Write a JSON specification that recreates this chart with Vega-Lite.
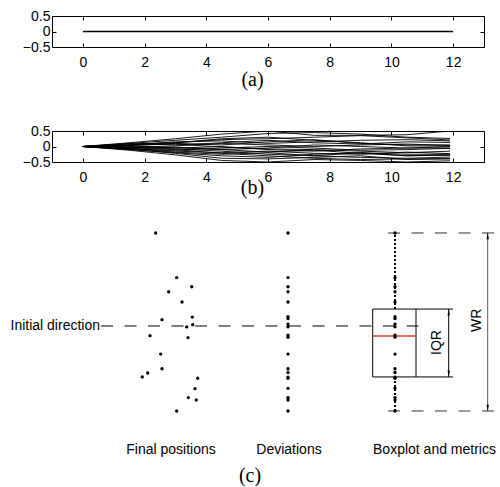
{
"$schema": "https://vega.github.io/schema/vega-lite/v6.json",
"padding": {"left": 10, "top": 8, "right": 0, "bottom": 0},
"spacing": 84,
"bounds": "flush",
"config": {
  "font": "Liberation Sans",
  "view": {"stroke": "#000", "strokeWidth": 1},
  "axis": {"grid": false, "domain": false, "ticks": true, "tickSize": -4, "tickColor": "#000", "labelFontSize": 14, "labelColor": "#000", "labelFont": "Liberation Sans", "titleFont": "Liberation Serif", "titleFontSize": 20, "titleFontWeight": "normal", "titleColor": "#000", "titlePadding": 0}
},
"datasets": {
  "flat": [{"t": 0, "y": 0}, {"t": 12, "y": 0}],
  "runs": [
{"r":1,"t":0,"y":0},{"r":1,"t":1.5,"y":0.12},{"r":1,"t":3,"y":0.25},{"r":1,"t":4.5,"y":0.40},{"r":1,"t":6,"y":0.50},{"r":1,"t":7.5,"y":0.36},{"r":1,"t":9,"y":0.36},{"r":1,"t":10.5,"y":0.38},{"r":1,"t":11.9,"y":0.50},
{"r":2,"t":0,"y":0},{"r":2,"t":1.5,"y":0.10},{"r":2,"t":3,"y":0.20},{"r":2,"t":4.5,"y":0.30},{"r":2,"t":6,"y":0.42},{"r":2,"t":7.5,"y":0.45},{"r":2,"t":9,"y":0.40},{"r":2,"t":10.5,"y":0.30},{"r":2,"t":11.9,"y":0.26},
{"r":3,"t":0,"y":0},{"r":3,"t":1.5,"y":0.08},{"r":3,"t":3,"y":0.12},{"r":3,"t":4.5,"y":0.22},{"r":3,"t":6,"y":0.25},{"r":3,"t":7.5,"y":0.30},{"r":3,"t":9,"y":0.35},{"r":3,"t":10.5,"y":0.28},{"r":3,"t":11.9,"y":0.21},
{"r":4,"t":0,"y":0},{"r":4,"t":1.5,"y":0.05},{"r":4,"t":3,"y":0.15},{"r":4,"t":4.5,"y":0.18},{"r":4,"t":6,"y":0.10},{"r":4,"t":7.5,"y":0.15},{"r":4,"t":9,"y":0.20},{"r":4,"t":10.5,"y":0.22},{"r":4,"t":11.9,"y":0.18},
{"r":5,"t":0,"y":0},{"r":5,"t":1.5,"y":0.09},{"r":5,"t":3,"y":0.05},{"r":5,"t":4.5,"y":0.12},{"r":5,"t":6,"y":0.20},{"r":5,"t":7.5,"y":0.12},{"r":5,"t":9,"y":0.08},{"r":5,"t":10.5,"y":0.15},{"r":5,"t":11.9,"y":0.13},
{"r":6,"t":0,"y":0},{"r":6,"t":1.5,"y":0.03},{"r":6,"t":3,"y":0.10},{"r":6,"t":4.5,"y":0.05},{"r":6,"t":6,"y":0.15},{"r":6,"t":7.5,"y":0.22},{"r":6,"t":9,"y":0.10},{"r":6,"t":10.5,"y":0.05},{"r":6,"t":11.9,"y":0.05},
{"r":7,"t":0,"y":0},{"r":7,"t":1.5,"y":-0.03},{"r":7,"t":3,"y":0.02},{"r":7,"t":4.5,"y":0.10},{"r":7,"t":6,"y":0.05},{"r":7,"t":7.5,"y":0.00},{"r":7,"t":9,"y":0.05},{"r":7,"t":10.5,"y":0.08},{"r":7,"t":11.9,"y":0.03},
{"r":8,"t":0,"y":0},{"r":8,"t":1.5,"y":0.06},{"r":8,"t":3,"y":0.12},{"r":8,"t":4.5,"y":0.25},{"r":8,"t":6,"y":0.30},{"r":8,"t":7.5,"y":0.20},{"r":8,"t":9,"y":0.12},{"r":8,"t":10.5,"y":0.02},{"r":8,"t":11.9,"y":0.01},
{"r":9,"t":0,"y":0},{"r":9,"t":1.5,"y":-0.05},{"r":9,"t":3,"y":-0.02},{"r":9,"t":4.5,"y":-0.10},{"r":9,"t":6,"y":-0.05},{"r":9,"t":7.5,"y":0.05},{"r":9,"t":9,"y":0.00},{"r":9,"t":10.5,"y":-0.05},{"r":9,"t":11.9,"y":-0.005},
{"r":10,"t":0,"y":0},{"r":10,"t":1.5,"y":0.02},{"r":10,"t":3,"y":-0.05},{"r":10,"t":4.5,"y":0.00},{"r":10,"t":6,"y":-0.10},{"r":10,"t":7.5,"y":-0.15},{"r":10,"t":9,"y":-0.08},{"r":10,"t":10.5,"y":-0.05},{"r":10,"t":11.9,"y":-0.05},
{"r":11,"t":0,"y":0},{"r":11,"t":1.5,"y":-0.08},{"r":11,"t":3,"y":-0.12},{"r":11,"t":4.5,"y":-0.05},{"r":11,"t":6,"y":0.00},{"r":11,"t":7.5,"y":-0.05},{"r":11,"t":9,"y":-0.12},{"r":11,"t":10.5,"y":-0.10},{"r":11,"t":11.9,"y":-0.06},
{"r":12,"t":0,"y":0},{"r":12,"t":1.5,"y":0.04},{"r":12,"t":3,"y":0.08},{"r":12,"t":4.5,"y":-0.02},{"r":12,"t":6,"y":-0.08},{"r":12,"t":7.5,"y":-0.10},{"r":12,"t":9,"y":-0.15},{"r":12,"t":10.5,"y":-0.20},{"r":12,"t":11.9,"y":-0.15},
{"r":13,"t":0,"y":0},{"r":13,"t":1.5,"y":-0.06},{"r":13,"t":3,"y":-0.15},{"r":13,"t":4.5,"y":-0.20},{"r":13,"t":6,"y":-0.15},{"r":13,"t":7.5,"y":-0.22},{"r":13,"t":9,"y":-0.25},{"r":13,"t":10.5,"y":-0.18},{"r":13,"t":11.9,"y":-0.23},
{"r":14,"t":0,"y":0},{"r":14,"t":1.5,"y":-0.02},{"r":14,"t":3,"y":-0.08},{"r":14,"t":4.5,"y":-0.15},{"r":14,"t":6,"y":-0.25},{"r":14,"t":7.5,"y":-0.30},{"r":14,"t":9,"y":-0.20},{"r":14,"t":10.5,"y":-0.25},{"r":14,"t":11.9,"y":-0.25},
{"r":15,"t":0,"y":0},{"r":15,"t":1.5,"y":-0.10},{"r":15,"t":3,"y":-0.20},{"r":15,"t":4.5,"y":-0.30},{"r":15,"t":6,"y":-0.35},{"r":15,"t":7.5,"y":-0.25},{"r":15,"t":9,"y":-0.20},{"r":15,"t":10.5,"y":-0.30},{"r":15,"t":11.9,"y":-0.27},
{"r":16,"t":0,"y":0},{"r":16,"t":1.5,"y":0.00},{"r":16,"t":3,"y":-0.04},{"r":16,"t":4.5,"y":-0.10},{"r":16,"t":6,"y":-0.18},{"r":16,"t":7.5,"y":-0.12},{"r":16,"t":9,"y":-0.22},{"r":16,"t":10.5,"y":-0.30},{"r":16,"t":11.9,"y":-0.28},
{"r":17,"t":0,"y":0},{"r":17,"t":1.5,"y":-0.07},{"r":17,"t":3,"y":-0.18},{"r":17,"t":4.5,"y":-0.25},{"r":17,"t":6,"y":-0.20},{"r":17,"t":7.5,"y":-0.30},{"r":17,"t":9,"y":-0.35},{"r":17,"t":10.5,"y":-0.38},{"r":17,"t":11.9,"y":-0.34},
{"r":18,"t":0,"y":0},{"r":18,"t":1.5,"y":-0.04},{"r":18,"t":3,"y":-0.10},{"r":18,"t":4.5,"y":-0.22},{"r":18,"t":6,"y":-0.30},{"r":18,"t":7.5,"y":-0.38},{"r":18,"t":9,"y":-0.42},{"r":18,"t":10.5,"y":-0.40},{"r":18,"t":11.9,"y":-0.39},
{"r":19,"t":0,"y":0},{"r":19,"t":1.5,"y":-0.09},{"r":19,"t":3,"y":-0.22},{"r":19,"t":4.5,"y":-0.38},{"r":19,"t":6,"y":-0.40},{"r":19,"t":7.5,"y":-0.35},{"r":19,"t":9,"y":-0.30},{"r":19,"t":10.5,"y":-0.42},{"r":19,"t":11.9,"y":-0.40},
{"r":20,"t":0,"y":0},{"r":20,"t":1.5,"y":-0.12},{"r":20,"t":3,"y":-0.27},{"r":20,"t":4.5,"y":-0.45},{"r":20,"t":6,"y":-0.50},{"r":20,"t":7.5,"y":-0.42},{"r":20,"t":9,"y":-0.45},{"r":20,"t":10.5,"y":-0.50},{"r":20,"t":11.9,"y":-0.46}
  ],
  "pts": [
{"g":"final","x":1.557,"y":0.50},{"g":"final","x":1.767,"y":0.26},{"g":"final","x":1.917,"y":0.211},{"g":"final","x":1.687,"y":0.184},{"g":"final","x":1.82,"y":0.129},
{"g":"final","x":1.62,"y":0.034},{"g":"final","x":1.923,"y":0.048},{"g":"final","x":1.927,"y":0.007},{"g":"final","x":1.867,"y":-0.005},{"g":"final","x":1.50,"y":-0.052},
{"g":"final","x":1.88,"y":-0.063},{"g":"final","x":1.607,"y":-0.151},{"g":"final","x":1.62,"y":-0.23},{"g":"final","x":1.477,"y":-0.253},{"g":"final","x":1.423,"y":-0.274},
{"g":"final","x":1.977,"y":-0.281},{"g":"final","x":1.95,"y":-0.337},{"g":"final","x":1.883,"y":-0.385},{"g":"final","x":1.963,"y":-0.398},{"g":"final","x":1.767,"y":-0.457},
{"g":"dev","x":2.88,"y":0.50},{"g":"dev","x":2.88,"y":0.26},{"g":"dev","x":2.88,"y":0.211},{"g":"dev","x":2.88,"y":0.184},{"g":"dev","x":2.88,"y":0.129},
{"g":"dev","x":2.88,"y":0.05},{"g":"dev","x":2.88,"y":0.04},{"g":"dev","x":2.88,"y":0.01},{"g":"dev","x":2.88,"y":-0.004},{"g":"dev","x":2.88,"y":-0.05},
{"g":"dev","x":2.88,"y":-0.06},{"g":"dev","x":2.88,"y":-0.151},{"g":"dev","x":2.88,"y":-0.23},{"g":"dev","x":2.88,"y":-0.25},{"g":"dev","x":2.88,"y":-0.275},
{"g":"dev","x":2.88,"y":-0.281},{"g":"dev","x":2.88,"y":-0.335},{"g":"dev","x":2.88,"y":-0.385},{"g":"dev","x":2.88,"y":-0.398},{"g":"dev","x":2.88,"y":-0.457},
{"g":"box","x":3.95,"y":0.50},{"g":"box","x":3.95,"y":0.26},{"g":"box","x":3.95,"y":0.211},{"g":"box","x":3.95,"y":0.184},{"g":"box","x":3.95,"y":0.129},
{"g":"box","x":3.95,"y":0.05},{"g":"box","x":3.95,"y":0.04},{"g":"box","x":3.95,"y":0.01},{"g":"box","x":3.95,"y":-0.004},{"g":"box","x":3.95,"y":-0.05},
{"g":"box","x":3.95,"y":-0.06},{"g":"box","x":3.95,"y":-0.151},{"g":"box","x":3.95,"y":-0.23},{"g":"box","x":3.95,"y":-0.25},{"g":"box","x":3.95,"y":-0.275},
{"g":"box","x":3.95,"y":-0.281},{"g":"box","x":3.95,"y":-0.335},{"g":"box","x":3.95,"y":-0.385},{"g":"box","x":3.95,"y":-0.398},{"g":"box","x":3.95,"y":-0.457}
  ]
},
"vconcat": [
  {
    "width": 432, "height": 31,
    "data": {"name": "flat"},
    "layer": [
      {"mark": {"type": "line", "color": "#000", "strokeWidth": 1.3},
       "encoding": {
         "x": {"field": "t", "type": "quantitative", "scale": {"domain": [-1, 13], "nice": false, "zero": false}, "axis": {"values": [0,2,4,6,8,10,12], "title": "(a)", "labelPadding": 12, "titleX": 200, "titleY": 32, "titleBaseline": "middle", "titleAlign": "center"}},
         "y": {"field": "y", "type": "quantitative", "scale": {"domain": [-0.5, 0.5], "nice": false}, "axis": {"values": [-0.5, 0, 0.5], "title": null, "labelPadding": 6, "labelExpr": "datum.value == 0 ? '0' : format(datum.value, '.1f')"}}
       }},
      {"mark": {"type": "line", "opacity": 0},
       "encoding": {
         "x": {"field": "t", "type": "quantitative", "axis": {"orient": "top", "values": [0,2,4,6,8,10,12], "labels": false, "title": null}},
         "y": {"field": "y", "type": "quantitative", "axis": {"orient": "right", "values": [-0.5, 0, 0.5], "labels": false, "title": null}}
       }}
    ],
    "resolve": {"axis": {"x": "independent", "y": "independent"}}
  },
  {
    "width": 432, "height": 31,
    "data": {"name": "runs"},
    "layer": [
      {"mark": {"type": "line", "color": "#000", "strokeWidth": 0.9, "clip": true},
       "encoding": {
         "x": {"field": "t", "type": "quantitative", "scale": {"domain": [-1, 13], "nice": false, "zero": false}, "axis": {"values": [0,2,4,6,8,10,12], "title": "(b)", "labelPadding": 12, "titleX": 200, "titleY": 25, "titleBaseline": "middle", "titleAlign": "center"}},
         "y": {"field": "y", "type": "quantitative", "scale": {"domain": [-0.5, 0.5], "nice": false}, "axis": {"values": [-0.5, 0, 0.5], "title": null, "labelPadding": 6, "labelExpr": "datum.value == 0 ? '0' : format(datum.value, '.1f')"}},
         "detail": {"field": "r", "type": "nominal"}
       }},
      {"mark": {"type": "line", "opacity": 0},
       "encoding": {
         "x": {"field": "t", "type": "quantitative", "axis": {"orient": "top", "values": [0,2,4,6,8,10,12], "labels": false, "title": null}},
         "y": {"field": "y", "type": "quantitative", "axis": {"orient": "right", "values": [-0.5, 0, 0.5], "labels": false, "title": null}},
         "detail": {"field": "r", "type": "nominal"}
       }}
    ],
    "resolve": {"axis": {"x": "independent", "y": "independent"}}
  },
  {
    "width": 432, "height": 239,
    "view": {"stroke": null},
    "encoding": {
      "x": {"field": "x", "type": "quantitative", "scale": {"domain": [0.52, 4.84], "nice": false, "zero": false}, "axis": null},
      "y": {"field": "y", "type": "quantitative", "scale": {"domain": [-0.855, 0.43], "nice": false, "zero": false}, "axis": null}
    },
    "layer": [
      {"data": {"values": [{"x": 1.01, "x2": 4.2, "y": 0}]},
       "mark": {"type": "rule", "color": "#000", "strokeWidth": 1, "strokeDash": [12, 11.5]},
       "encoding": {"x2": {"field": "x2"}}},
      {"data": {"values": [{"x": 3.88, "x2": 4.99, "y": 0.5}, {"x": 3.88, "x2": 4.99, "y": -0.457}]},
       "mark": {"type": "rule", "color": "#333", "strokeWidth": 1, "strokeDash": [12, 11.5]},
       "encoding": {"x2": {"field": "x2"}}},
      {"data": {"values": [{"x": 4.16, "x2": 4.53, "y": 0.091}, {"x": 4.16, "x2": 4.53, "y": -0.274}]},
       "mark": {"type": "rule", "color": "#000", "strokeWidth": 1},
       "encoding": {"x2": {"field": "x2"}}},
      {"data": {"values": [{"x": 3.727, "x2": 4.16, "y": -0.274, "y2": 0.091}]},
       "mark": {"type": "rect", "fill": "transparent", "stroke": "#000", "strokeWidth": 1},
       "encoding": {"x2": {"field": "x2"}, "y2": {"field": "y2"}}},
      {"data": {"values": [{"x": 3.727, "x2": 4.16, "y": -0.054}]},
       "mark": {"type": "rule", "color": "#ee3b30", "strokeWidth": 1.5},
       "encoding": {"x2": {"field": "x2"}}},
      {"data": {"values": [{"x": 3.95, "y": 0.091, "y2": 0.5}, {"x": 3.95, "y": -0.457, "y2": -0.274}]},
       "mark": {"type": "rule", "color": "#000", "strokeWidth": 2, "strokeDash": [2, 2]},
       "encoding": {"y2": {"field": "y2"}}},
      {"data": {"values": [{"x": 4.487, "y": -0.274, "y2": 0.091}]},
       "mark": {"type": "rule", "color": "#000", "strokeWidth": 1},
       "encoding": {"y2": {"field": "y2"}}},
      {"data": {"values": [{"x": 4.877, "y": -0.457, "y2": 0.5}]},
       "mark": {"type": "rule", "color": "#555", "strokeWidth": 1},
       "encoding": {"y2": {"field": "y2"}}},
      {"data": {"values": [{"x": 4.487, "y": 0.075}, {"x": 4.877, "y": 0.484}]},
       "mark": {"type": "point", "shape": "M0,-1L0.35,1L-0.35,1Z", "filled": true, "color": "#000", "size": 45, "opacity": 1}},
      {"data": {"values": [{"x": 4.487, "y": -0.258}, {"x": 4.877, "y": -0.441}]},
       "mark": {"type": "point", "shape": "M0,1L0.35,-1L-0.35,-1Z", "filled": true, "color": "#000", "size": 45, "opacity": 1}},
      {"data": {"name": "pts"},
       "mark": {"type": "circle", "color": "#000", "size": 11, "opacity": 1}},
      {"data": {"values": [{"x": 1.0, "y": 0, "label": "Initial direction"}]},
       "mark": {"type": "text", "align": "right", "baseline": "middle", "fontSize": 14, "color": "#000"},
       "encoding": {"text": {"field": "label"}}},
      {"data": {"values": [{"x": 1.71, "y": -0.667, "label": "Final positions"}, {"x": 2.89, "y": -0.667, "label": "Deviations"}, {"x": 4.345, "y": -0.667, "label": "Boxplot and metrics"}]},
       "mark": {"type": "text", "align": "center", "baseline": "middle", "fontSize": 14, "color": "#000"},
       "encoding": {"text": {"field": "label"}}},
      {"data": {"values": [{"x": 4.367, "y": -0.089, "label": "IQR"}, {"x": 4.768, "y": 0.03, "label": "WR"}]},
       "mark": {"type": "text", "align": "center", "baseline": "middle", "fontSize": 14, "angle": 270, "color": "#000"},
       "encoding": {"text": {"field": "label"}}},
      {"data": {"values": [{"x": 2.5, "y": -0.806, "label": "(c)"}]},
       "mark": {"type": "text", "align": "center", "baseline": "middle", "fontSize": 20, "font": "Liberation Serif", "color": "#000"},
       "encoding": {"text": {"field": "label"}}}
    ]
  }
]
}
